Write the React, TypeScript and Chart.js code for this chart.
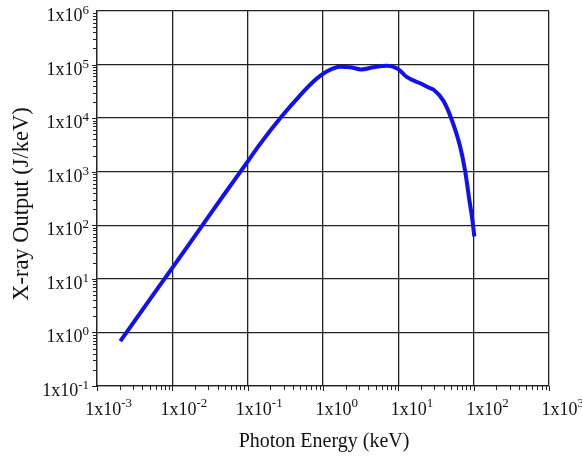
import React, { useEffect, useRef } from "react";
import { Chart, registerables } from "chart.js";

Chart.register(...registerables);

// Photon energy (keV) and X-ray output (J/keV)
const energy = [
  0.00204, 0.00724, 0.01, 0.0257, 0.0525, 0.0933, 0.145, 0.282, 0.5, 0.741,
  1.12, 1.7, 2.29, 3.24, 4.68, 7.08, 9.55, 11.0, 12.9, 19.5, 26.3, 29.5, 39.8,
  51.3, 66.1, 76.7, 87.7, 96.2, 102,
];
const output = [
  0.69, 8.5, 16, 105, 437, 1350, 3240, 10700, 26900, 47900, 74100, 91200,
  89100, 81300, 89100, 95500, 85100, 72400, 58900, 44700, 36300, 33900, 20900,
  9230, 2950, 1070, 295, 126, 62,
];

const xExponents = [-3, -2, -1, 0, 1, 2, 3];
const yExponents = [-1, 0, 1, 2, 3, 4, 5, 6];
const xTitle = "Photon Energy (keV)";
const yTitle = "X-ray Output (J/keV)";

const FONT = '"Liberation Serif", "Times New Roman", serif';

const labelPlugin = {
  id: "logLabels",
  afterDraw(chart: any) {
    const ctx = chart.ctx;
    const xs = chart.scales.x;
    const ys = chart.scales.y;
    const area = chart.chartArea;
    ctx.save();
    ctx.fillStyle = "#111";
    ctx.strokeStyle = "#222";
    ctx.lineWidth = 1;

    // minor + major tick marks
    for (let e = xExponents[0]; e < xExponents[xExponents.length - 1]; e++) {
      for (let m = 1; m <= 9; m++) {
        const px = Math.round(xs.getPixelForValue(m * Math.pow(10, e))) + 0.5;
        ctx.beginPath();
        ctx.moveTo(px, area.bottom);
        ctx.lineTo(px, area.bottom + (m === 1 ? 5 : 4));
        ctx.stroke();
      }
    }
    {
      const px = Math.round(xs.getPixelForValue(Math.pow(10, 3))) + 0.5;
      ctx.beginPath();
      ctx.moveTo(px, area.bottom);
      ctx.lineTo(px, area.bottom + 5);
      ctx.stroke();
    }
    for (let e = yExponents[0]; e < yExponents[yExponents.length - 1]; e++) {
      for (let m = 1; m <= 9; m++) {
        const py = Math.round(ys.getPixelForValue(m * Math.pow(10, e))) + 0.5;
        ctx.beginPath();
        ctx.moveTo(area.left, py);
        ctx.lineTo(area.left - (m === 1 ? 5 : 4), py);
        ctx.stroke();
      }
    }

    // x tick labels: "1x10" + superscript exponent, right aligned at tick+35
    ctx.textBaseline = "alphabetic";
    for (const e of xExponents) {
      const px = xs.getPixelForValue(Math.pow(10, e));
      const sup = String(e);
      ctx.font = `13px ${FONT}`;
      const wSup = ctx.measureText(sup).width;
      ctx.font = `18px ${FONT}`;
      const wBase = ctx.measureText("1x10").width;
      const right = px + 35;
      ctx.textAlign = "left";
      ctx.fillText("1x10", right - wSup - wBase, area.bottom + 29);
      ctx.font = `13px ${FONT}`;
      ctx.fillText(sup, right - wSup, area.bottom + 21);
    }
    // y tick labels
    for (const e of yExponents) {
      const py = ys.getPixelForValue(Math.pow(10, e));
      const sup = String(e);
      ctx.font = `13px ${FONT}`;
      const wSup = ctx.measureText(sup).width;
      ctx.font = `18px ${FONT}`;
      const wBase = ctx.measureText("1x10").width;
      const right = area.left - 8;
      ctx.textAlign = "left";
      ctx.fillText("1x10", right - wSup - wBase, py + 10);
      ctx.font = `13px ${FONT}`;
      ctx.fillText(sup, right - wSup, py + 3);
    }

    // axis titles
    ctx.font = `20px ${FONT}`;
    ctx.textAlign = "center";
    ctx.fillText(xTitle, (area.left + area.right) / 2 + 1, 447);
    ctx.save();
    ctx.translate(28, 204);
    ctx.rotate(-Math.PI / 2);
    ctx.font = `22.5px ${FONT}`;
    ctx.fillText(yTitle, 0, 0);
    ctx.restore();

    ctx.restore();
  },
};

export default function App() {
  const ref = useRef<HTMLCanvasElement | null>(null);
  useEffect(() => {
    if (!ref.current) return;
    const decadeTicks = (exps: number[]) => (scale: any) => {
      scale.ticks = exps.map((e) => ({ value: Math.pow(10, e), major: true }));
    };
    const chart = new Chart(ref.current, {
      type: "line",
      data: {
        datasets: [
          {
            data: energy.map((x, i) => ({ x, y: output[i] })),
            borderColor: "#1010f0",
            borderWidth: 4,
            pointRadius: 0,
            cubicInterpolationMode: "monotone",
            fill: false,
          },
        ],
      },
      options: {
        animation: false,
        responsive: false,
        events: [],
        layout: { padding: { left: 97, right: 33, top: 11, bottom: 70 } },
        plugins: { legend: { display: false }, tooltip: { enabled: false } },
        scales: {
          x: {
            type: "logarithmic",
            min: 1e-3,
            max: 1e3,
            afterBuildTicks: decadeTicks(xExponents),
            ticks: { display: false, autoSkip: false },
            grid: { color: "#222", lineWidth: 1.3, drawTicks: false },
            border: { display: true, color: "#222", width: 1.3 },
          },
          y: {
            type: "logarithmic",
            min: 1e-1,
            max: 1e6,
            afterBuildTicks: decadeTicks(yExponents),
            ticks: { display: false, autoSkip: false },
            grid: { color: "#222", lineWidth: 1.3, drawTicks: false },
            border: { display: true, color: "#222", width: 1.3 },
          },
        },
      },
      plugins: [labelPlugin],
    } as any);
    return () => chart.destroy();
  }, []);
  return (
    <div style={{ position: "fixed", left: 0, top: 0, width: 582, height: 456, background: "#fff" }}>
      <canvas ref={ref} width={582} height={456} style={{ display: "block" }} />
    </div>
  );
}
